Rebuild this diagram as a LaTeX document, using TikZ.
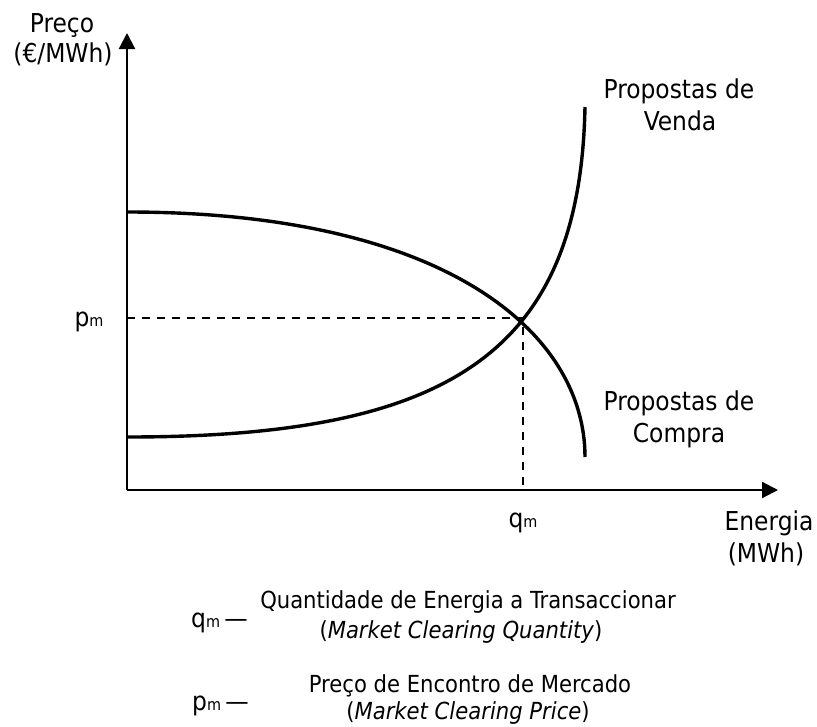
\documentclass[tikz,border=0pt]{standalone}
\usepackage{fontspec}
\setmainfont{DejaVu Sans Condensed}
\usetikzlibrary{arrows.meta}
\newcommand{\sbm}{{\fontsize{16}{16}\selectfont m}}
\begin{document}
\begin{tikzpicture}[x=1pt,y=-1pt,
  axis/.style={line width=2.2pt,-{Triangle[length=16pt,width=16pt]}},
  curve/.style={line width=3.4pt},
  guide/.style={line width=1.6pt,dash pattern=on 8pt off 7pt},
  lbl/.style={anchor=base,inner sep=0pt,font=\fontsize{26}{31}\selectfont},
  leg/.style={anchor=base,inner sep=0pt,font=\fontsize{23.5}{28}\selectfont}]
\useasboundingbox (0,0) rectangle (817,726);
\coordinate (O) at (127,490);
\coordinate (ytip) at (127,33);
\coordinate (xtip) at (778,490);
\coordinate (E) at (523,318);
\coordinate (pax) at (127,318);
\coordinate (qax) at (523,490);
\coordinate (d0) at (127,212);
\coordinate (d1) at (585,457);
\coordinate (s0) at (127,437);
\coordinate (s1) at (585,107);
\draw[axis] (O) -- (ytip);
\draw[axis] (O) -- (xtip);
\draw[guide] (pax) -- (E) -- (qax);
\draw[curve] (d0) .. controls (448,212) and (585,334) .. (d1);
\draw[curve] (s0) .. controls (448,437) and (580,354) .. (s1);
\node[lbl] (preco) at (62,32) {Preço};
\node[lbl] (unit) at (63,62) {(€/MWh)};
\node[lbl] (vend1) at (679,98) {Propostas de};
\node[lbl] (vend2) at (680,130) {Venda};
\node[lbl] (comp1) at (679,410) {Propostas de};
\node[lbl] (comp2) at (679,442) {Compra};
\node[lbl] (en1) at (769,530) {Energia};
\node[lbl] (en2) at (766,562) {(MWh)};
\node[lbl] (pm) at (89,326) {p\sbm};
\node[lbl] (qm) at (523,527) {q\sbm};
\node[leg] (l1) at (468,608) {Quantidade de Energia a Transaccionar};
\node[leg] (l2) at (461,638) {(\textit{Market Clearing Quantity})};
\node[leg] (l3) at (470,692) {Preço de Encontro de Mercado};
\node[leg] (l4) at (468,719) {(\textit{Market Clearing Price})};
\node[lbl,anchor=base west] (lq) at (191,627) {q\sbm\,—};
\node[lbl,anchor=base west] (lp) at (192,710) {p\sbm\,—};
\end{tikzpicture}
\end{document}
